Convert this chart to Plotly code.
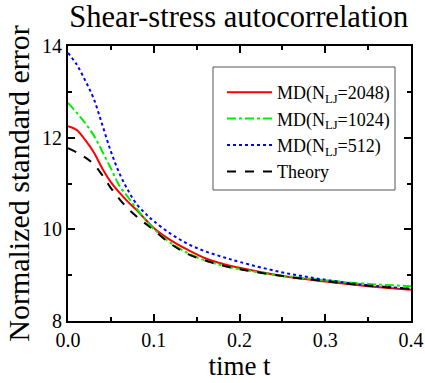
import plotly.graph_objects as go

t = [0.0, 0.01, 0.02, 0.03, 0.04, 0.05, 0.06, 0.07, 0.08, 0.09, 0.10,
     0.12, 0.14, 0.16, 0.18, 0.20, 0.25, 0.30, 0.35, 0.40]
md2048 = [12.25, 12.17, 11.95, 11.68, 11.33, 11.03, 10.80, 10.60, 10.42, 10.22, 10.03,
          9.76, 9.55, 9.37, 9.25, 9.16, 8.98, 8.86, 8.76, 8.68]
md1024 = [12.76, 12.55, 12.32, 12.05, 11.70, 11.33, 10.95, 10.70, 10.45, 10.22, 10.01,
          9.70, 9.48, 9.32, 9.21, 9.13, 8.99, 8.89, 8.81, 8.76]
md512 = [13.85, 13.60, 13.25, 12.85, 12.28, 11.70, 11.22, 10.85, 10.55, 10.35, 10.18,
         9.90, 9.68, 9.52, 9.40, 9.29, 9.06, 8.90, 8.78, 8.70]
theory = [11.77, 11.68, 11.57, 11.42, 11.18, 10.90, 10.66, 10.45, 10.28, 10.13, 9.98,
          9.68, 9.46, 9.32, 9.21, 9.13, 8.98, 8.87, 8.77, 8.70]

names = ["MD(N<sub>LJ</sub>=2048)", "MD(N<sub>LJ</sub>=1024)",
         "MD(N<sub>LJ</sub>=512)", "Theory"]
series = [md2048, md1024, md512, theory]
colors = ["#ff0000", "#00ee00", "#0000ff", "#000000"]
dashes = ["solid", "dashdot", "dot", "dash"]

FONT = "Liberation Serif"

fig = go.Figure()
for name, y, c, d in zip(names, series, colors, dashes):
    fig.add_trace(go.Scatter(x=t, y=y, mode="lines", name=name,
                             line=dict(color=c, width=2, dash=d, shape="spline")))

axis_common = dict(showline=True, linecolor="black", linewidth=2, mirror="ticks",
                   ticks="inside", ticklen=7, tickwidth=1.5, tickcolor="black",
                   showgrid=False, zeroline=False, automargin=False,
                   tickfont=dict(family=FONT, size=20, color="black"))

fig.update_xaxes(range=[0, 0.4], tickvals=[0, 0.1, 0.2, 0.3, 0.4],
                 ticktext=["0.0", "0.1", "0.2", "0.3", "0.4"],
                 minor=dict(dtick=0.05, ticks="inside", ticklen=4, tickcolor="black"),
                 title=dict(text="time t", font=dict(family=FONT, size=27, color="black"),
                            standoff=2),
                 **axis_common)
fig.update_yaxes(range=[8, 14], tickvals=[8, 10, 12, 14],
                 minor=dict(dtick=1, ticks="inside", ticklen=4, tickcolor="black"),
                 title=dict(text="Normalized standard error",
                            font=dict(family=FONT, size=30, color="black"), standoff=4),
                 **axis_common)

fig.add_shape(type="rect", xref="paper", yref="paper",
              x0=(213 - 68) / 343, x1=(395 - 68) / 343,
              y0=(321 - 190) / 275, y1=(321 - 67) / 275,
              line=dict(color="#555555", width=1), fillcolor="white", layer="below")

fig.update_layout(
    width=425, height=383,
    margin=dict(l=68, r=14, t=46, b=62),
    plot_bgcolor="white", paper_bgcolor="white",
    title=dict(text="Shear-stress autocorrelation", x=0.562, xanchor="center",
               y=0.985, yanchor="top",
               font=dict(family=FONT, size=30.5, color="black")),
    legend=dict(x=(222 - 68) / 343, y=(321 - 74) / 275, xanchor="left", yanchor="top",
                borderwidth=0, bgcolor="rgba(0,0,0,0)",
                font=dict(family=FONT, size=18, color="black"),
                tracegroupgap=0, itemwidth=45),
    showlegend=True,
)

fig.write_html("out.html")
